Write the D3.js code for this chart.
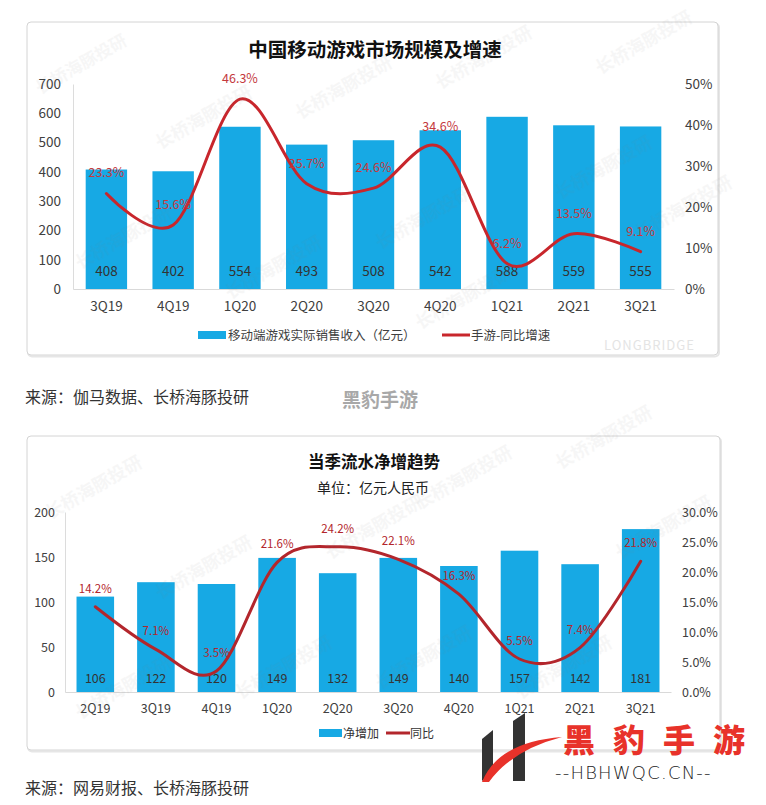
<!DOCTYPE html>
<html><head><meta charset="utf-8">
<script src="https://cdn.jsdelivr.net/npm/d3@7/dist/d3.min.js"></script>
<style>
html,body{margin:0;padding:0;background:#fff;}
svg text{font-family:"Noto Sans CJK SC","Noto Sans",sans-serif;}
</style></head>
<body><svg id="c" width="766" height="805"></svg>
<script>
// ---------- data ----------
const cats1 = ["3Q19","4Q19","1Q20","2Q20","3Q20","4Q20","1Q21","2Q21","3Q21"];
const revenue1 = [408,402,554,493,508,542,588,559,555];
const growth1 = [23.3,15.6,46.3,25.7,24.6,34.6,6.2,13.5,9.1];
const ticksL1 = [0,100,200,300,400,500,600,700];
const ticksR1 = [0,10,20,30,40,50];

const cats2 = ["2Q19","3Q19","4Q19","1Q20","2Q20","3Q20","4Q20","1Q21","2Q21","3Q21"];
const net2 = [106,122,120,149,132,149,140,157,142,181];
const yoy2 = [14.2,7.1,3.5,21.6,24.2,22.1,16.3,5.5,7.4,21.8];
const ticksL2 = [0,50,100,150,200];
const ticksR2 = [0,5,10,15,20,25,30];

const BLUE = "#17a9e4";
const svg = d3.select("#c");
svg.append("rect").attr("width",766).attr("height",805).attr("fill","#fff");

function frame(x,y,w,h){
  svg.append("rect").attr("x",x+1).attr("y",y+1.5).attr("width",w).attr("height",h).attr("rx",4)
    .attr("fill","none").attr("stroke","#e6e6e6").attr("stroke-width",2);
  svg.append("rect").attr("x",x).attr("y",y).attr("width",w).attr("height",h).attr("rx",4)
    .attr("fill","#fff").attr("stroke","#d4d4d4").attr("stroke-width",1);
}
function watermarks(list){
  const g = svg.append("g");
  list.forEach(p=>{
    g.append("text").attr("transform",`translate(${p[0]},${p[1]}) rotate(-30)`)
      .attr("font-size",p[2]||18).attr("fill","#7a7a7a").attr("opacity",0.06)
      .attr("font-weight",700).text("长桥海豚投研");
  });
}

function chart(cfg){
  const x = d3.scaleBand().domain(cfg.cats).range(cfg.xr).paddingInner(0.38).paddingOuter(0.19);
  const yL = d3.scaleLinear().domain(cfg.domL).range(cfg.yr);
  const yR = d3.scaleLinear().domain(cfg.domR).range(cfg.yr);
  const g = svg.append("g");
  const ax = g.append("g").attr("transform",`translate(${cfg.xr[0]},0)`)
    .call(d3.axisLeft(yL).tickValues(cfg.ticksL).tickSize(0).tickPadding(cfg.padL));
  ax.select(".domain").attr("stroke","#dcdcdc");
  ax.selectAll("text").attr("font-size",cfg.fs).attr("fill","#404040").style("font-family",'"Noto Sans CJK SC",sans-serif');
  const axr = g.append("g").attr("transform",`translate(${cfg.xr[1]},0)`)
    .call(d3.axisRight(yR).tickValues(cfg.ticksR).tickSize(0).tickPadding(cfg.padR).tickFormat(cfg.fmtR));
  axr.select(".domain").remove();
  axr.selectAll("text").attr("font-size",cfg.fs).attr("fill","#404040").style("font-family",'"Noto Sans CJK SC",sans-serif');
  g.selectAll("rect.bar").data(cfg.vals).join("rect").attr("class","bar")
    .attr("x",(d,i)=>x(cfg.cats[i])).attr("width",x.bandwidth())
    .attr("y",d=>yL(d)).attr("height",d=>yL(0)-yL(d)).attr("fill",BLUE);
  const axb = g.append("g").attr("transform",`translate(0,${cfg.yr[0]})`)
    .call(d3.axisBottom(x).tickSize(0).tickPadding(12).tickSizeOuter(0));
  axb.select(".domain").attr("stroke","#d9d9d9");
  axb.selectAll("text").attr("font-size",cfg.fs).attr("fill","#404040").style("font-family",'"Noto Sans CJK SC",sans-serif');
  g.selectAll("text.vl").data(cfg.vals).join("text").attr("class","vl")
    .attr("x",(d,i)=>x(cfg.cats[i])+x.bandwidth()/2).attr("y",cfg.valY)
    .attr("text-anchor","middle").attr("font-size",cfg.fs).attr("fill","#333").text(d=>d);
  const line = d3.line().x((d,i)=>x(cfg.cats[i])+x.bandwidth()/2).y(d=>yR(d)).curve(d3.curveCardinal.tension(0));
  g.append("path").datum(cfg.pct).attr("d",line).attr("fill","none")
    .attr("stroke",cfg.lineColor).attr("stroke-width",3).attr("stroke-linecap","round");
  g.selectAll("text.pl").data(cfg.pct).join("text").attr("class","pl")
    .attr("x",(d,i)=>x(cfg.cats[i])+x.bandwidth()/2).attr("y",d=>yR(d)-cfg.lblOff)
    .attr("text-anchor","middle").attr("font-size",cfg.fs-1).attr("fill",cfg.lblColor)
    .text(d=>d3.format(".1f")(d)+"%");
}

// ---------- chart 1 ----------
frame(27,22,691,333);
svg.append("text").attr("x",375).attr("y",57).attr("text-anchor","middle")
  .attr("font-size",19.5).attr("font-weight",700).attr("fill","#111").text("中国移动游戏市场规模及增速");
chart({cats:cats1, vals:revenue1, pct:growth1, xr:[73,674], yr:[289,84], domL:[0,700], domR:[0,50],
  ticksL:ticksL1, ticksR:ticksR1, padL:12, padR:11, fmtR:d=>d+"%", fs:13.5, valY:276,
  lineColor:"#c8262c", lblColor:"#c4393d", lblOff:16});
svg.append("rect").attr("x",198).attr("y",331).attr("width",28).attr("height",8).attr("fill",BLUE);
svg.append("text").attr("x",228).attr("y",339.5).attr("font-size",12.5).attr("fill","#404040").text("移动端游戏实际销售收入（亿元）");
svg.append("line").attr("x1",442).attr("x2",470).attr("y1",335).attr("y2",335).attr("stroke","#c8262c").attr("stroke-width",3);
svg.append("text").attr("x",471).attr("y",339.5).attr("font-size",12.5).attr("fill","#404040").text("手游-同比增速");
svg.append("text").attr("x",604).attr("y",350).attr("font-size",13).attr("fill","#e4e4e4").attr("letter-spacing",1).text("LONGBRIDGE");
watermarks([[40,95,17],[160,150],[300,120],[440,90],[600,75],[230,300],[420,330],[560,200],[640,240],[80,270],[380,250]]);

svg.append("text").attr("x",25).attr("y",403).attr("font-size",16).attr("fill","#333").text("来源：伽马数据、长桥海豚投研");
svg.append("text").attr("x",342).attr("y",407).attr("font-size",19).attr("font-weight",700).attr("fill","#a8a8a8").text("黑豹手游");

// ---------- chart 2 ----------
frame(27,436,693,314);
svg.append("text").attr("x",374).attr("y",468).attr("text-anchor","middle")
  .attr("font-size",16.5).attr("font-weight",700).attr("fill","#111").text("当季流水净增趋势");
svg.append("text").attr("x",373).attr("y",493).attr("text-anchor","middle")
  .attr("font-size",14).attr("fill","#222").text("单位：亿元人民币");
chart({cats:cats2, vals:net2, pct:yoy2, xr:[65,671], yr:[692,512], domL:[0,200], domR:[0,30],
  ticksL:ticksL2, ticksR:ticksR2, padL:10, padR:11, fmtR:d=>d3.format(".1f")(d)+"%", fs:12.5, valY:683,
  lineColor:"#b3262c", lblColor:"#b3262c", lblOff:14});
svg.append("rect").attr("x",319).attr("y",729).attr("width",23).attr("height",8).attr("fill",BLUE);
svg.append("text").attr("x",343).attr("y",737.5).attr("font-size",12).attr("fill","#333").text("净增加");
svg.append("line").attr("x1",386).attr("x2",410).attr("y1",733).attr("y2",733).attr("stroke","#b3262c").attr("stroke-width",3);
svg.append("text").attr("x",410).attr("y",737.5).attr("font-size",12).attr("fill","#333").text("同比");
watermarks([[50,520],[160,600],[330,560],[420,510],[560,470],[620,560],[240,700],[380,690],[520,700],[80,720]]);

svg.append("text").attr("x",25).attr("y",794).attr("font-size",16).attr("fill","#333").text("来源：网易财报、长桥海豚投研");

// ---------- site logo ----------
const lg = svg.append("g");
lg.append("path").attr("d","M482,739 L493,730 L493,772 L482,781 Z").attr("fill","#333");
lg.append("path").attr("d","M513,721 L525,713 L525,781 L513,781 Z").attr("fill","#333");
lg.append("path").attr("d","M482,782 Q498,742 562,737 Q512,750 489,782 Z").attr("fill","#e8322a");
lg.append("text").attr("x",563).attr("y",752).attr("font-size",32).attr("font-weight",900)
  .attr("letter-spacing",18).attr("fill","#e8322a").text("黑豹手游");
lg.append("text").attr("x",555).attr("y",779).attr("font-size",18).attr("letter-spacing",1.2)
  .attr("fill","#222").style("font-family","DejaVu Sans").attr("font-weight",300).text("--HBHWQC.CN--");
</script></body></html>
